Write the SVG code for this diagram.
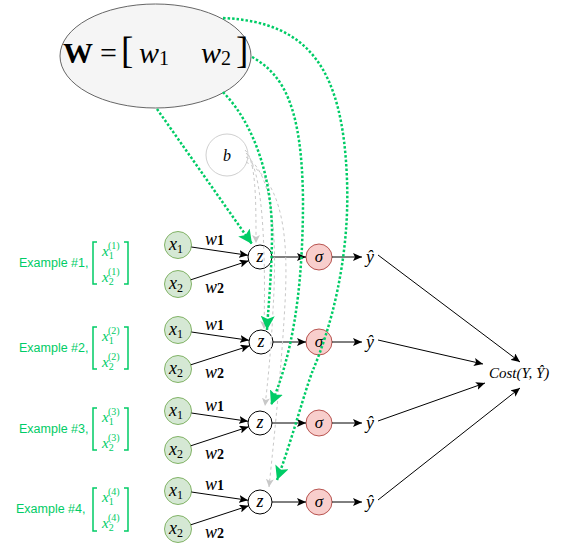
<svg xmlns="http://www.w3.org/2000/svg" width="571" height="560" viewBox="0 0 571 560">
<style>
.serif{font-family:"Liberation Serif","Times New Roman",serif;fill:#000}
.it{font-style:italic}
.ex{font-family:"Liberation Sans",Arial,sans-serif;font-size:12.5px;fill:#00cc66}
.mx{font-family:"Liberation Serif","Times New Roman",serif;fill:#00cc66}
.br{fill:none;stroke:#00cc66;stroke-width:1.5}
.xn{fill:#d5e8d4;stroke:#82b366;stroke-width:1}
.zn{fill:#fff;stroke:#000;stroke-width:1}
.sn{fill:#f8cecc;stroke:#b85450;stroke-width:1}
.edge{fill:none;stroke:#000;stroke-width:1;marker-end:url(#arr)}
.dot{fill:none;stroke:#00cc66;stroke-width:2.5;stroke-dasharray:2.5 2;marker-end:url(#garr)}
.dash{fill:none;stroke:#c8c8c8;stroke-width:1;stroke-dasharray:3 3;marker-end:url(#darr)}
</style>
<defs>
<marker id="arr" markerUnits="userSpaceOnUse" markerWidth="10" markerHeight="8" refX="9" refY="4" orient="auto"><path d="M0,0 L9,4 L0,8 L2,4 z" fill="#000"/></marker>
<marker id="garr" markerUnits="userSpaceOnUse" markerWidth="16" markerHeight="14" refX="14" refY="7" orient="auto"><path d="M0,0 L14,7 L0,14 L3,7 z" fill="#00cc66"/></marker>
<marker id="darr" markerUnits="userSpaceOnUse" markerWidth="9" markerHeight="8" refX="8" refY="4" orient="auto"><path d="M0,0 L8,4 L0,8 L2,4 z" fill="#c8c8c8"/></marker>
</defs>

<g id="W">
<ellipse cx="155.5" cy="56" rx="95.5" ry="52" fill="#f5f5f5" stroke="#666"/>
<text class="serif" x="63" y="63" font-size="30" font-weight="bold">W</text>
<text class="serif" x="100" y="63" font-size="30">=</text>
<text class="serif" x="121" y="63" font-size="37">[</text>
<text class="serif" x="139" y="63" font-size="30"><tspan class="it">w</tspan><tspan font-size="20" dy="2">1</tspan></text>
<text class="serif" x="201" y="63" font-size="30"><tspan class="it">w</tspan><tspan font-size="20" dy="2">2</tspan></text>
<text class="serif" x="236" y="63" font-size="37">]</text>
</g>

<g id="b">
<circle cx="227" cy="155" r="21" fill="#fff" stroke="#d0d0d0"/>
<text class="serif it" x="227" y="161" font-size="16" text-anchor="middle">b</text>
</g>

<g id="examples">
<g id="ex1">
<text class="ex" x="19" y="267">Example #1,</text>
<path class="br" d="M97,242 H93 V284 H97 M124,242 H128 V284 H124"/>
<text class="mx" x="102" y="256" font-size="15"><tspan class="it">x</tspan><tspan font-size="10" dy="3">1</tspan><tspan font-size="10" x="108" dy="-10">(1)</tspan></text>
<text class="mx" x="102" y="282" font-size="15"><tspan class="it">x</tspan><tspan font-size="10" dy="3">2</tspan><tspan font-size="10" x="108" dy="-10">(1)</tspan></text>
</g>
<g id="ex2">
<text class="ex" x="19" y="352">Example #2,</text>
<path class="br" d="M97,327 H93 V369 H97 M124,327 H128 V369 H124"/>
<text class="mx" x="102" y="341" font-size="15"><tspan class="it">x</tspan><tspan font-size="10" dy="3">1</tspan><tspan font-size="10" x="108" dy="-10">(2)</tspan></text>
<text class="mx" x="102" y="367" font-size="15"><tspan class="it">x</tspan><tspan font-size="10" dy="3">2</tspan><tspan font-size="10" x="108" dy="-10">(2)</tspan></text>
</g>
<g id="ex3">
<text class="ex" x="19" y="433">Example #3,</text>
<path class="br" d="M97,408 H93 V450 H97 M124,408 H128 V450 H124"/>
<text class="mx" x="102" y="422" font-size="15"><tspan class="it">x</tspan><tspan font-size="10" dy="3">1</tspan><tspan font-size="10" x="108" dy="-10">(3)</tspan></text>
<text class="mx" x="102" y="448" font-size="15"><tspan class="it">x</tspan><tspan font-size="10" dy="3">2</tspan><tspan font-size="10" x="108" dy="-10">(3)</tspan></text>
</g>
<g id="ex4">
<text class="ex" x="16" y="513">Example #4,</text>
<path class="br" d="M97,488 H93 V531 H97 M124,488 H128 V531 H124"/>
<text class="mx" x="102" y="502" font-size="15"><tspan class="it">x</tspan><tspan font-size="10" dy="3">1</tspan><tspan font-size="10" x="108" dy="-10">(4)</tspan></text>
<text class="mx" x="102" y="528" font-size="15"><tspan class="it">x</tspan><tspan font-size="10" dy="3">2</tspan><tspan font-size="10" x="108" dy="-10">(4)</tspan></text>
</g>
</g>

<g id="nodes">
<g id="row1">
<circle class="xn" cx="178" cy="245" r="13.5"/><text class="serif" x="169" y="250" font-size="18"><tspan class="it">x</tspan><tspan font-size="12" dy="3">1</tspan></text>
<circle class="xn" cx="178" cy="284" r="13.5"/><text class="serif" x="169" y="289" font-size="18"><tspan class="it">x</tspan><tspan font-size="12" dy="3">2</tspan></text>
<circle class="zn" cx="260" cy="257" r="12"/><text class="serif it" x="260" y="262" font-size="18" text-anchor="middle">z</text>
<circle class="sn" cx="319" cy="257" r="13"/><text class="serif it" x="319" y="262" font-size="17" text-anchor="middle">σ</text>
<text class="serif it" x="370" y="263" font-size="18" text-anchor="middle">ŷ</text>
</g>
<g id="row2">
<circle class="xn" cx="178" cy="330" r="13.5"/><text class="serif" x="169" y="335" font-size="18"><tspan class="it">x</tspan><tspan font-size="12" dy="3">1</tspan></text>
<circle class="xn" cx="178" cy="369" r="13.5"/><text class="serif" x="169" y="374" font-size="18"><tspan class="it">x</tspan><tspan font-size="12" dy="3">2</tspan></text>
<circle class="zn" cx="261" cy="342" r="12"/><text class="serif it" x="261" y="347" font-size="18" text-anchor="middle">z</text>
<circle class="sn" cx="319" cy="342" r="13"/><text class="serif it" x="319" y="347" font-size="17" text-anchor="middle">σ</text>
<text class="serif it" x="370" y="348" font-size="18" text-anchor="middle">ŷ</text>
</g>
<g id="row3">
<circle class="xn" cx="178" cy="411" r="13.5"/><text class="serif" x="169" y="416" font-size="18"><tspan class="it">x</tspan><tspan font-size="12" dy="3">1</tspan></text>
<circle class="xn" cx="178" cy="450" r="13.5"/><text class="serif" x="169" y="455" font-size="18"><tspan class="it">x</tspan><tspan font-size="12" dy="3">2</tspan></text>
<circle class="zn" cx="260" cy="423" r="12"/><text class="serif it" x="260" y="428" font-size="18" text-anchor="middle">z</text>
<circle class="sn" cx="319" cy="423" r="13"/><text class="serif it" x="319" y="428" font-size="17" text-anchor="middle">σ</text>
<text class="serif it" x="370" y="429" font-size="18" text-anchor="middle">ŷ</text>
</g>
<g id="row4">
<circle class="xn" cx="178" cy="491" r="13.5"/><text class="serif" x="169" y="496" font-size="18"><tspan class="it">x</tspan><tspan font-size="12" dy="3">1</tspan></text>
<circle class="xn" cx="178" cy="529" r="13.5"/><text class="serif" x="169" y="534" font-size="18"><tspan class="it">x</tspan><tspan font-size="12" dy="3">2</tspan></text>
<circle class="zn" cx="260" cy="502" r="12"/><text class="serif it" x="260" y="507" font-size="18" text-anchor="middle">z</text>
<circle class="sn" cx="319" cy="502" r="13"/><text class="serif it" x="319" y="507" font-size="17" text-anchor="middle">σ</text>
<text class="serif it" x="370" y="508" font-size="18" text-anchor="middle">ŷ</text>
</g>
<g id="cost">
<text class="serif it" x="489" y="378" font-size="15">Cost(Y, Ŷ)</text>
</g>
</g>

<g id="connectors">
<path class="edge" d="M191.4,247 L248,255.3"/>
<path class="edge" d="M190.8,279.8 L248.6,260.8"/>
<path class="edge" d="M272,257 H306"/>
<path class="edge" d="M332,257 H362"/>
<path class="edge" d="M191.4,332 L249,340.3"/>
<path class="edge" d="M190.8,364.8 L249.6,345.8"/>
<path class="edge" d="M273,342 H306"/>
<path class="edge" d="M332,342 H362"/>
<path class="edge" d="M191.4,413 L248,421.3"/>
<path class="edge" d="M190.8,445.8 L248.6,426.8"/>
<path class="edge" d="M272,423 H306"/>
<path class="edge" d="M332,423 H362"/>
<path class="edge" d="M191.4,492 L248,500.3"/>
<path class="edge" d="M190.8,524.8 L248.6,505.8"/>
<path class="edge" d="M272,502 H306"/>
<path class="edge" d="M332,502 H362"/>
<path class="edge" d="M378,255 L520,362"/>
<path class="edge" d="M378,340 L483,364"/>
<path class="edge" d="M378,421 L485,383"/>
<path class="edge" d="M378,500 L520,388"/>
<g id="weights">
<text class="serif" x="205" y="245" font-size="18"><tspan class="it">w</tspan><tspan font-size="14" font-weight="bold">1</tspan></text>
<text class="serif" x="205" y="293" font-size="18"><tspan class="it">w</tspan><tspan font-size="14" font-weight="bold">2</tspan></text>
<text class="serif" x="205" y="330" font-size="18"><tspan class="it">w</tspan><tspan font-size="14" font-weight="bold">1</tspan></text>
<text class="serif" x="205" y="378" font-size="18"><tspan class="it">w</tspan><tspan font-size="14" font-weight="bold">2</tspan></text>
<text class="serif" x="205" y="411" font-size="18"><tspan class="it">w</tspan><tspan font-size="14" font-weight="bold">1</tspan></text>
<text class="serif" x="205" y="459" font-size="18"><tspan class="it">w</tspan><tspan font-size="14" font-weight="bold">2</tspan></text>
<text class="serif" x="205" y="490" font-size="18"><tspan class="it">w</tspan><tspan font-size="14" font-weight="bold">1</tspan></text>
<text class="serif" x="205" y="538" font-size="18"><tspan class="it">w</tspan><tspan font-size="14" font-weight="bold">2</tspan></text>
</g>
<path class="dash" d="M245,150 C256,160 256,200 256,243"/>
<path class="dash" d="M246,153 C262,168 266,240 264,329"/>
<path class="dash" d="M246,157 C278,175 276,260 273,310 C271,350 268,380 265,406"/>
<path class="dash" d="M246,162 C290,185 288,260 284,320 C281,370 275,430 269,487"/>
<path class="dot" d="M157,109 L252,244"/>
<path class="dot" d="M223,92 C255,125 273,180 272,240 C271,285 268,310 267,330"/>
<path class="dot" d="M252,57 C285,75 302,110 303,200 C303,300 290,360 271,405"/>
<path class="dot" d="M223,18 C310,22 343,70 347,180 C350,260 330,330 313,370 C305,390 292,440 277,480"/>
</g>
</svg>
